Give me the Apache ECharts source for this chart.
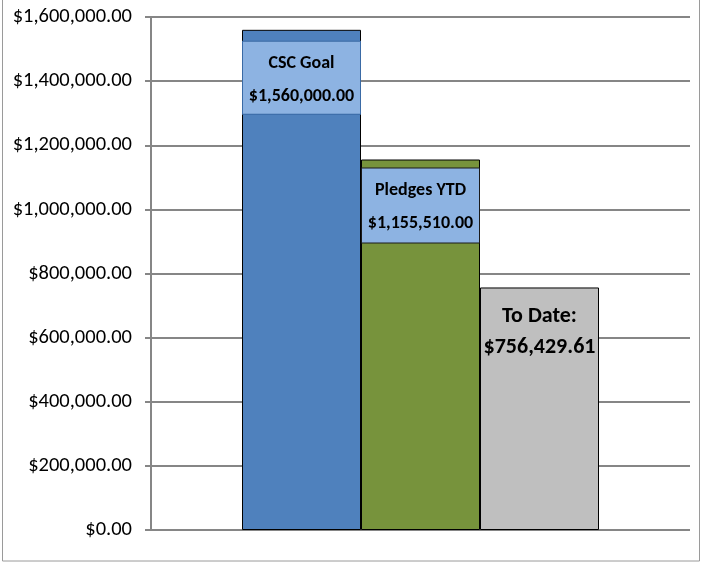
<!DOCTYPE html>
<html><head><meta charset="utf-8">
<script src="https://cdn.jsdelivr.net/npm/echarts@6/dist/echarts.min.js"></script>
<style>html,body{margin:0;padding:0;background:#fff}#c{width:701px;height:563px}</style>
</head><body><div id="c"></div>
<script>
const seriesNames = ['CSC Goal', 'Pledges YTD', 'To Date:'];
const seriesValues = [1560000.00, 1155510.00, 756429.61];
const barColors = ['#4F81BD', '#77933C', '#BFBFBF'];
const yMin = 0, yMax = 1600000, yStep = 200000;

const FONT = 'Calibri, Carlito, sans-serif';
const money = v => '$' + Number(v).toLocaleString('en-US', {minimumFractionDigits: 2, maximumFractionDigits: 2});

const labelStyles = [
  {distance: 12, backgroundColor: '#8DB3E2', borderColor: '#3A6AA5', borderWidth: 1, fontSize: 18, lineHeight: 33, width: 113, padding: [5, 2, 1, 2]},
  {distance: 9, backgroundColor: '#8DB3E2', borderColor: '#1a1a1a', borderWidth: 1, fontSize: 18, lineHeight: 33, width: 113, padding: [5, 2, 3, 2]},
  {distance: 14, fontSize: 22, lineHeight: 31}
];

const chart = echarts.init(document.getElementById('c'), null, {renderer: 'canvas'});
chart.setOption({
  animation: false,
  backgroundColor: '#fff',
  grid: {left: 151, right: 11, top: 17, bottom: 33},
  xAxis: {type: 'category', data: [''], axisLine: {show: false}, axisTick: {show: false}, axisLabel: {show: false}},
  yAxis: {
    type: 'value', min: yMin, max: yMax, interval: yStep,
    axisLine: {show: true, lineStyle: {color: '#868686', width: 2}},
    axisTick: {show: true, length: 6, lineStyle: {color: '#868686', width: 2}},
    axisLabel: {formatter: v => money(v), fontFamily: FONT, fontSize: 20.5, color: '#000', margin: 19},
    splitLine: {lineStyle: {color: '#868686', width: 2}}
  },
  graphic: [{type: 'rect', shape: {x: 2.5, y: -5, width: 697, height: 566}, style: {fill: 'none', stroke: '#9a9a9a', lineWidth: 1}, silent: true}],
  series: seriesNames.map((n, i) => ({
    name: n, type: 'bar', barWidth: 119, barGap: '0%',
    data: [seriesValues[i]],
    itemStyle: {color: barColors[i], borderColor: '#000', borderWidth: 1},
    label: Object.assign({
      show: true, position: 'insideTop', color: '#000', fontFamily: FONT, fontWeight: 'bold', align: 'center',
      formatter: p => p.seriesName + '\n' + money(p.value)
    }, labelStyles[i])
  }))
});
</script></body></html>
